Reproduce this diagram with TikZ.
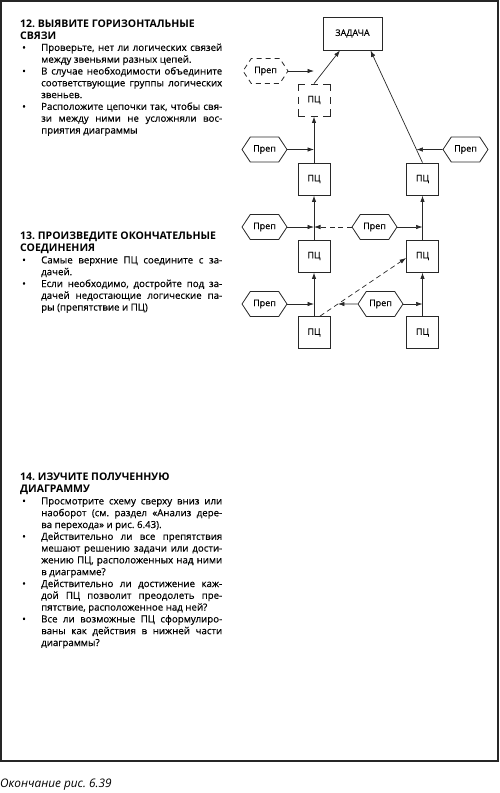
\documentclass[tikz,border=0pt]{standalone}
\usepackage{fontspec}
\setmainfont{Open Sans}
\newfontfamily\bodyfont{Open Sans}[UprightFeatures={FakeBold=0.35}]
\usetikzlibrary{arrows.meta,shapes.symbols,calc}
\definecolor{linec}{RGB}{40,40,40}
\frenchspacing
\newcommand\bitem{\hangindent=21pt\hangafter=1\noindent\hbox to 21pt{\hspace{2pt}•\hfil}}
\newcommand\hd[1]{{\normalfont\fontsize{10.5}{11.8}\selectfont\bfseries #1}\par}
\newcommand\dfont{\bodyfont\fontsize{9}{10}\selectfont}
\newcommand\txtfont{\bodyfont\fontsize{9.7}{11.8}\selectfont\frenchspacing\tolerance=10000\relax\hyphenpenalty=10000\relax}
\tikzset{
  txt/.style={anchor=north west, inner sep=0pt, text width=202pt, align=justify, font=\txtfont},
  pc/.style={draw=linec, line width=0.8pt, minimum width=32pt, minimum height=32pt, inner sep=0pt, font=\dfont},
  pcd/.style={pc, dash pattern=on 13.4pt off 5.8pt on 7pt off 5.8pt, dash phase=6.7pt},
  zadst/.style={pc, minimum width=59pt, minimum height=33pt},
  prep/.style={draw=linec, line width=0.8pt, shape=signal, signal to=east and west,
    signal pointer angle=113, minimum width=45pt, minimum height=25pt, inner sep=0pt, font=\dfont},
  prepd/.style={prep, dash pattern=on 5pt off 4pt},
  varr/.style={draw=linec, line width=1pt, -{Latex[length=6.5pt,width=4.5pt]}},
  harr/.style={draw=linec, line width=0.7pt, -{Latex[length=6.5pt,width=4.5pt]}},
  darr/.style={harr, dash pattern=on 5pt off 3.5pt},
}
\begin{document}
\begin{tikzpicture}[x=1pt,y=-1pt]
\useasboundingbox (0,0) rectangle (500,793);
\draw[line width=1.5pt, color=black!85] (1,1) rectangle (498,761);

% texts
\node[txt] (s12) at (20,19.5) {%
\hd{12. ВЫЯВИТЕ ГОРИЗОНТАЛЬНЫЕ}
\hd{СВЯЗИ}
\bitem Проверьте, нет ли логических связей\linebreak между звеньями разных цепей.\par
\bitem В случае необходимости объедините\linebreak соответствующие группы логических\linebreak звеньев.\par
\bitem Расположите цепочки так, чтобы свя-\linebreak зи между ними не усложняли вос-\linebreak приятия диаграммы\par};

\node[txt] (s13) at (20,232) {%
\hd{13. ПРОИЗВЕДИТЕ ОКОНЧАТЕЛЬНЫЕ}
\hd{СОЕДИНЕНИЯ}
\bitem Самые верхние ПЦ соедините с за-\linebreak дачей.\par
\bitem Если необходимо, достройте под за-\linebreak дачей недостающие логические па-\linebreak ры (препятствие и ПЦ)\par};

\node[txt] (s14) at (20,473) {%
\hd{14. ИЗУЧИТЕ ПОЛУЧЕННУЮ}
\hd{ДИАГРАММУ}
\bitem Просмотрите схему сверху вниз или\linebreak наоборот (см. раздел «Анализ дере-\linebreak ва перехода» и рис. 6.43).\par
\bitem Действительно ли все препятствия\linebreak мешают решению задачи или дости-\linebreak жению ПЦ, расположенных над ними\linebreak в диаграмме?\par
\bitem Действительно ли достижение каж-\linebreak дой ПЦ позволит преодолеть пре-\linebreak пятствие, расположенное над ней?\par
\bitem Все ли возможные ПЦ сформулиро-\linebreak ваны как действия в нижней части\linebreak диаграммы?\par};

\node[anchor=base west, inner sep=0pt, font=\fontsize{11.8}{13}\selectfont\itshape] (cap) at (0,787.5) {Окончание рис. 6.39};

% diagram nodes
\node[zadst] (zad) at (352.5,33.5) {ЗАДАЧА};
\node[pcd] (pcD) at (314,100) {ПЦ};
\node[prepd] (prepD) at (265.5,71) {Преп};
\node[pc] (pcL1) at (314,179) {ПЦ};
\node[pc] (pcR1) at (422.5,179) {ПЦ};
\node[prep] (prepL1) at (264.5,149.5) {Преп};
\node[prep] (prepR1) at (465.5,149.5) {Преп};
\node[prep] (prepL2) at (264.5,227) {Преп};
\node[prep] (prepM2) at (374.5,227) {Преп};
\node[pc] (pcL2) at (314,256) {ПЦ};
\node[pc] (pcR2) at (422.5,256) {ПЦ};
\node[prep] (prepL3) at (264.5,304) {Преп};
\node[prep] (prepM3) at (380.5,304) {Преп};
\node[pc] (pcL3) at (314,332.5) {ПЦ};
\node[pc] (pcR3) at (422.5,332.5) {ПЦ};

\coordinate (zl) at ([xshift=-12.5pt]zad.south);
\coordinate (zr) at ([xshift=18pt]zad.south);
\coordinate (dst) at ([xshift=6pt]pcL3.north);
\coordinate (dend) at ([yshift=-2pt]pcR2.west);

% connectors
\draw[varr] (pcL3.north) -- (pcL2.south);
\draw[varr] (pcL2.north) -- (pcL1.south);
\draw[varr] (pcL1.north) -- (pcD.south);
\draw[varr] (pcR3.north) -- (pcR2.south);
\draw[varr] (pcR2.north) -- (pcR1.south);
\draw[harr] (pcD.north) -- (zl);
\draw[harr] (pcR1.north) -- (zr);

\draw[harr] (prepD.east) -- (prepD.east -| pcD.center);
\draw[harr] (prepL1.east) -- (prepL1.east -| pcL1.center);
\draw[harr] (prepL2.east) -- (prepL2.east -| pcL2.center);
\draw[harr] (prepL3.east) -- (prepL3.east -| pcL3.center);
\draw[harr] (prepR1.west) -- (intersection of prepR1.west--prepL1.east and pcR1.north--zr);
\draw[harr] (prepM2.east) -- (prepM2.east -| pcR2.center);
\draw[darr] (prepM2.west) -- (prepM2.west -| pcL2.center);
\draw[harr] (prepM3.east) -- (prepM3.east -| pcR3.center);
\draw[darr] (dst) -- (dend);
\draw[harr] (prepM3.west) -- (intersection of prepM3.west--prepL3.east and dst--dend);
\end{tikzpicture}
\end{document}
